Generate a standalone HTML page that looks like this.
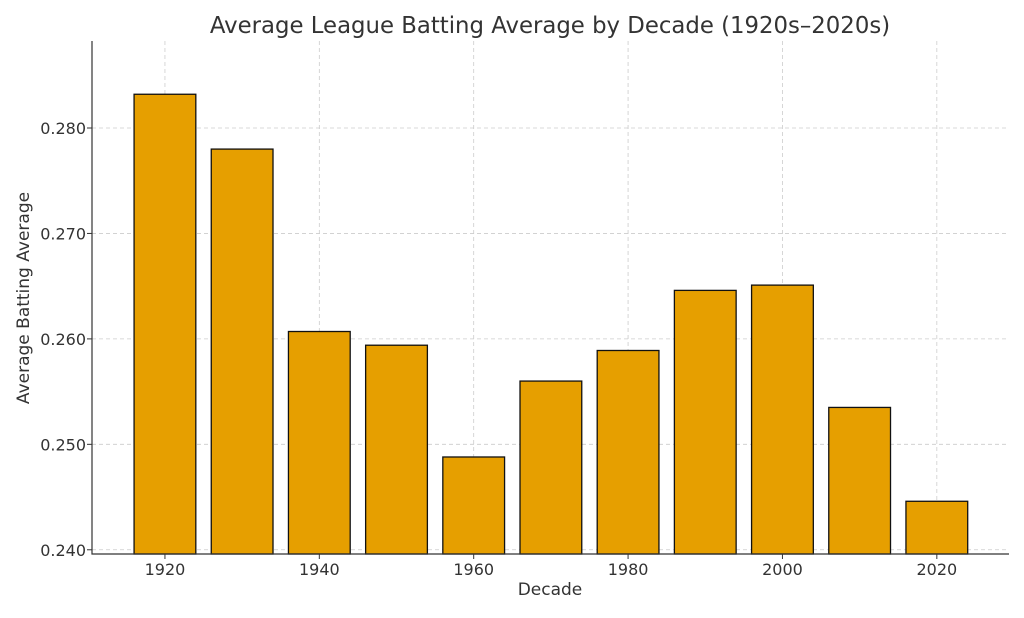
<!DOCTYPE html>
<html><head><meta charset="utf-8"><style>
body{margin:0;background:#fff;font-family:"DejaVu Sans","Liberation Sans",sans-serif;}
</style></head><body>
<svg id="chart" width="1024" height="614" xmlns="http://www.w3.org/2000/svg" font-family="DejaVu Sans, Liberation Sans, sans-serif">
<text x="550" y="33" text-anchor="middle" font-size="22.8" fill="#333">Average League Batting Average by Decade (1920s–2020s)</text>
<g id="grid"></g><g id="bars"></g><g id="axes"></g>
<text x="550" y="595" text-anchor="middle" font-size="17" fill="#333">Decade</text>
<text transform="translate(29,298) rotate(-90)" text-anchor="middle" font-size="17" fill="#333">Average Batting Average</text>
</svg>
<script>
const decades=[1920,1930,1940,1950,1960,1970,1980,1990,2000,2010,2020];
const averages=[0.2832,0.2780,0.2607,0.2594,0.2488,0.2560,0.2589,0.2646,0.2651,0.2535,0.2446];
const xTicks=[1920,1940,1960,1980,2000,2020];
const yTicks=[0.240,0.250,0.260,0.270,0.280];
const L=92,R=1009,T=41,B=554;
const xMin=1910.55,xMax=2029.35,yMin=0.2396,yMax=0.28825;
const xs=v=>L+(v-xMin)/(xMax-xMin)*(R-L);
const ys=v=>B-(v-yMin)/(yMax-yMin)*(B-T);
const NS="http://www.w3.org/2000/svg";
function mk(tag,attrs,parent){const e=document.createElementNS(NS,tag);for(const k in attrs)e.setAttribute(k,attrs[k]);document.getElementById(parent).appendChild(e);return e;}
xTicks.forEach(t=>{
 const g=mk('line',{x1:xs(t),x2:xs(t),y1:T,y2:B,stroke:'#ccc','stroke-dasharray':'4,3','stroke-width':0.8},'grid');
 
 
 const tk=mk('line',{x1:xs(t),x2:xs(t),y1:B,y2:B+5,stroke:'#333'},'axes');
 
 
 const lb=mk('text',{x:xs(t),y:B+21,'text-anchor':'middle','font-size':16,fill:'#333'},'axes');lb.textContent=t;
 
 
});
yTicks.forEach(t=>{
 const g=mk('line',{x1:L,x2:R,y1:ys(t),y2:ys(t),stroke:'#ccc','stroke-dasharray':'4,3','stroke-width':0.8},'grid');
 
 
 const tk=mk('line',{x1:L-5,x2:L,y1:ys(t),y2:ys(t),stroke:'#333'},'axes');
 
 
 const lb=mk('text',{x:L-6,y:ys(t)+6,'text-anchor':'end','font-size':16,fill:'#333'},'axes');lb.textContent=t.toFixed(3);
 
 
});
decades.forEach((d,i)=>{
 const x0=xs(d-4),x1=xs(d+4),y=ys(averages[i]);
 const r=mk('rect',{x:x0,y:y,width:x1-x0,height:B-y,fill:'#E69F00',stroke:'#111','stroke-width':1.3},'bars');
 
 
});
const ax=mk('path',{d:`M${L},${T} V${B} H${R}`,fill:'none',stroke:'#333','stroke-width':1.2},'axes');


</script>
</body></html>
